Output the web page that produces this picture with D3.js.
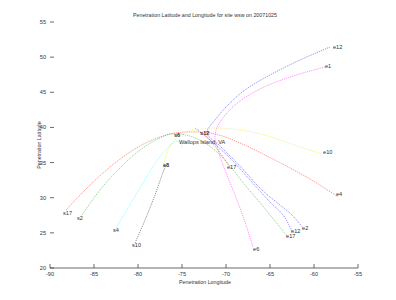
<!DOCTYPE html>
<html><head><meta charset="utf-8">
<script src="https://cdn.jsdelivr.net/npm/d3@7"></script>
<style>body{margin:0;background:#fff}svg{display:block}text{font-family:"Liberation Sans",Arial,sans-serif;fill:#333}</style>
</head><body><div id="c"></div>
<script>
const title = "Penetration Latitude and Longitude for site wsw on 20071025";
const xTicks = [-90,-85,-80,-75,-70,-65,-60,-55];
const yTicks = [20,25,30,35,40,45,50,55];

// tracks: longitude / latitude arrays
const redA_lon = [-88.18,-85.45,-82.61,-79.77,-77.50,-75.80,-73.52,-71.25,-68.41,-65.57,-62.73,-59.89,-57.27];
const redA_lat = [28.25,31.81,34.94,37.36,38.64,39.21,39.35,39.07,37.79,36.08,34.23,32.24,30.10];
const redB_lon = [-72.61,-71.82,-70.91,-70.11,-69.66];
const redB_lat = [39.21,38.21,36.79,35.37,34.51];
const green_lon = [-86.36,-84.32,-82.05,-79.77,-77.50,-76.14,-74.09,-72.39,-70.91,-69.55,-67.84,-65.91,-63.07];
const green_lat = [27.54,31.10,34.23,36.79,38.50,39.07,38.78,37.78,36.37,34.51,31.81,28.96,24.55];
const cyan_lon = [-82.50,-81.14,-79.77,-78.41,-77.16,-76.14,-75.45,-75.00,-75.11];
const cyan_lat = [25.69,28.54,31.38,34.23,36.37,37.64,38.07,37.64,37.07];
const grey_lon = [-80.34,-79.20,-78.07,-77.27,-76.82];
const grey_lat = [23.56,26.83,30.39,33.23,34.65];
const yellow_lon = [-77.16,-76.59,-75.80,-75.00,-73.52,-71.25,-68.41,-65.57,-63.86,-61.59,-59.09];
const yellow_lat = [34.23,36.79,38.21,39.07,39.63,39.92,39.63,38.92,38.21,37.22,36.22];
const blueA_lon = [-58.18,-61.59,-65.00,-67.84,-69.77,-71.25,-72.16,-70.68,-68.41,-65.91,-63.86,-62.50,-61.25];
const blueA_lat = [51.44,49.59,47.46,45.33,43.19,41.06,39.21,37.36,34.51,31.10,28.96,27.54,25.69];
const blueB_lon = [-73.52,-71.82,-69.55,-67.27,-65.00,-63.52,-62.50];
const blueB_lat = [39.92,38.21,35.65,32.52,29.39,27.54,25.26];
const mag_lon = [-58.75,-62.73,-66.36,-68.98,-70.68,-71.25,-70.91,-70.11,-68.98,-67.84,-66.93];
const mag_lat = [48.60,47.17,45.33,43.19,40.77,38.92,36.79,33.94,30.39,26.54,22.99];

const trackNames = ["redA","redB","green","cyan","grey","yellow","blueA","blueB","mag"];
const trackColors = ["#ff0000","#ff0000","#00a000","#00ffff","#000000","#e0e000","#0000ff","#0000ff","#ff00ff"];
const trackLon = [redA_lon,redB_lon,green_lon,cyan_lon,grey_lon,yellow_lon,blueA_lon,blueB_lon,mag_lon];
const trackLat = [redA_lat,redB_lat,green_lat,cyan_lat,grey_lat,yellow_lat,blueA_lat,blueB_lat,mag_lat];

// text labels at lon/lat
const labelText = ["e12","e1","e10","e4","e2","e12","e17","e6","s17","s2","s4","s10","e8","e17","s6","s12"];
const labelLon  = [-57.84,-58.75,-58.97,-57.50,-61.36,-62.61,-63.18,-66.93,-88.52,-86.93,-82.84,-80.68,-77.16,-69.89,-75.91,-72.95];
const labelLat  = [51.2,48.44,36.22,30.24,25.41,24.98,24.27,22.42,27.54,26.83,25.13,22.99,34.37,34.09,38.64,38.92];
const labelBold = [0,0,0,0,0,0,0,0,0,0,0,0,1,0,1,1];
const site = {name:"Wallops Island, VA", lon:-75.34, lat:37.64};

const W=396,H=300;
const svg=d3.select("#c").append("svg").attr("width",W).attr("height",H);
const x=d3.scaleLinear().domain([-90,-55]).range([50,358]);
const y=d3.scaleLinear().domain([20,55]).range([268,22]);

// title
svg.append("text").attr("x",205).attr("y",17).attr("text-anchor","middle").attr("font-size",5.3).text(title);

// x axis
const gx=svg.append("g").attr("transform","translate(0,268)");
gx.append("line").attr("x1",x(-90)).attr("x2",x(-55)).attr("stroke","#444").attr("stroke-width",0.8);
gx.selectAll("line.t").data(xTicks).join("line").attr("class","t")
  .attr("x1",d=>x(d)).attr("x2",d=>x(d)).attr("y1",0).attr("y2",-4).attr("stroke","#444").attr("stroke-width",0.8);
gx.selectAll("text").data(xTicks).join("text").attr("x",d=>x(d)).attr("y",8)
  .attr("text-anchor","middle").attr("font-size",5.6).text(d=>d);
svg.append("text").attr("x",205).attr("y",284).attr("text-anchor","middle").attr("font-size",5.3).text("Penetration Longitude");

// y axis
const gy=svg.append("g");
gy.selectAll("line").data(yTicks).join("line")
  .attr("x1",50).attr("x2",54).attr("y1",d=>y(d)).attr("y2",d=>y(d)).attr("stroke","#444").attr("stroke-width",0.8);
gy.selectAll("text").data(yTicks).join("text").attr("x",46).attr("y",d=>y(d)+2)
  .attr("text-anchor","end").attr("font-size",5.6).text(d=>d);
svg.append("text").attr("transform","translate(41,145) rotate(-90)").attr("text-anchor","middle").attr("font-size",5.3).text("Penetration Latitude");

// tracks
const line=d3.line().x(d=>x(d[0])).y(d=>y(d[1])).curve(d3.curveCatmullRom);
trackNames.forEach((n,i)=>{
  const pts=trackLon[i].map((v,j)=>[v,trackLat[i][j]]);
  svg.append("path").attr("d",line(pts)).attr("fill","none")
    .attr("stroke",trackColors[i]).attr("stroke-width",0.8).attr("stroke-opacity",0.55)
    .attr("stroke-dasharray","1.2,1");
});

// labels
labelText.forEach((t,i)=>{
  svg.append("text").attr("x",x(labelLon[i])).attr("y",y(labelLat[i])).attr("font-size",5.6)
    .attr("font-weight",labelBold[i]?"bold":"normal").text(t);
});
svg.append("text").attr("x",x(site.lon)).attr("y",y(site.lat)).attr("font-size",5.6).text(site.name);
</script></body></html>
